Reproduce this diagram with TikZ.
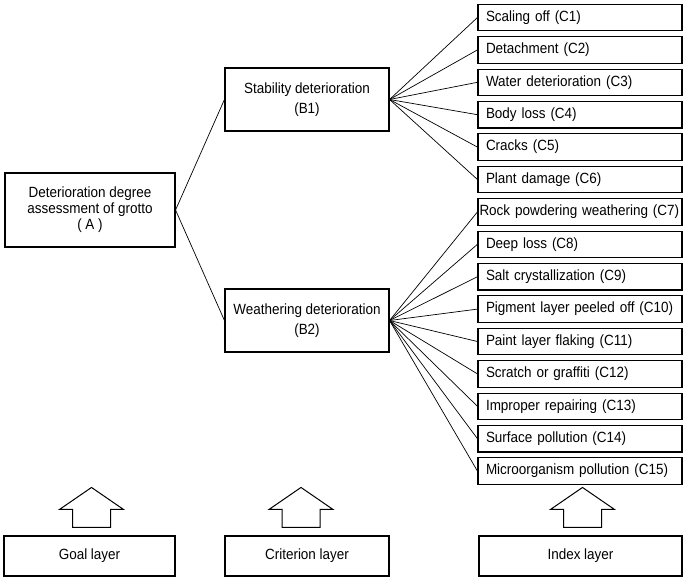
\documentclass[tikz,border=0pt]{standalone}
\usepackage{fontspec}
\setmainfont{Liberation Sans}[FakeStretch=0.91]
\usetikzlibrary{calc}

\tikzset{layerarrow/.pic={
    \draw[line width=1pt] (-19,0) -- (-19,-18) -- (-32,-18) -- (0,-40) -- (32,-18) -- (19,-18) -- (19,0) -- cycle;
}}

\begin{document}
\begin{tikzpicture}[x=1pt,y=-1pt,
    box/.style={draw, line width=1.1pt, inner sep=0pt, font=\fontsize{14.8}{16}\selectfont},
    goalbox/.style={box, minimum width=170pt, minimum height=74pt, align=center},
    critbox/.style={box, minimum width=164pt, minimum height=63pt, align=center, font=\fontsize{14.8}{20}\selectfont},
    indexbox/.style={box, minimum width=204pt, minimum height=26.5pt, align=left},
    layerbox/.style={box, minimum height=40pt},
    link/.style={line width=0.7pt}]

        \useasboundingbox (0,0) rectangle (685,581);

        \node[goalbox] (a) at (90,210) {Deterioration degree\\assessment of grotto\\( A )};

        \node[critbox] (b1) at (307,99.5) {Stability deterioration\\(B1)};
        \node[critbox] (b2) at (307,320.5) {Weathering deterioration\\(B2)};

        \draw[link] (a.east) -- (b1.west);
        \draw[link] (a.east) -- (b2.west);

        % index layer
        \foreach \name/\tw/\up [count=\i] in {Scaling off (C1)/188/b1, Detachment (C2)/188/b1,
                Water deterioration (C3)/188/b1, Body loss (C4)/188/b1, Cracks (C5)/188/b1,
                Plant damage (C6)/188/b1, Rock powdering weathering (C7)/201/b2,
                Deep loss (C8)/188/b2, Salt crystallization (C9)/188/b2,
                Pigment layer peeled off (C10)/188/b2, Paint layer flaking (C11)/188/b2,
                Scratch or graffiti (C12)/188/b2, Improper repairing (C13)/188/b2,
                Surface pollution (C14)/188/b2, Microorganism pollution (C15)/188/b2}{
            \node[indexbox, text width=\tw pt] (c\i) at (580,{17.5+32.4*(\i-1)}) {\name};
            \draw[link] (\up.east) -- (c\i.west);
        }

        % layer names
        \node[layerbox, minimum width=171pt] (goal) at (89.5,556) {Goal layer};
        \node[layerbox, minimum width=164pt] (crit) at (307,556) {Criterion layer};
        \node[layerbox, minimum width=203pt] (index) at (580.5,556) {Index layer};

        \pic at ($(goal.north)+(2,-8)$) {layerarrow};
        \pic at ($(crit.north)+(-6,-8)$) {layerarrow};
        \pic at ($(index.north)+(2,-8)$) {layerarrow};

\end{tikzpicture}
\end{document}
